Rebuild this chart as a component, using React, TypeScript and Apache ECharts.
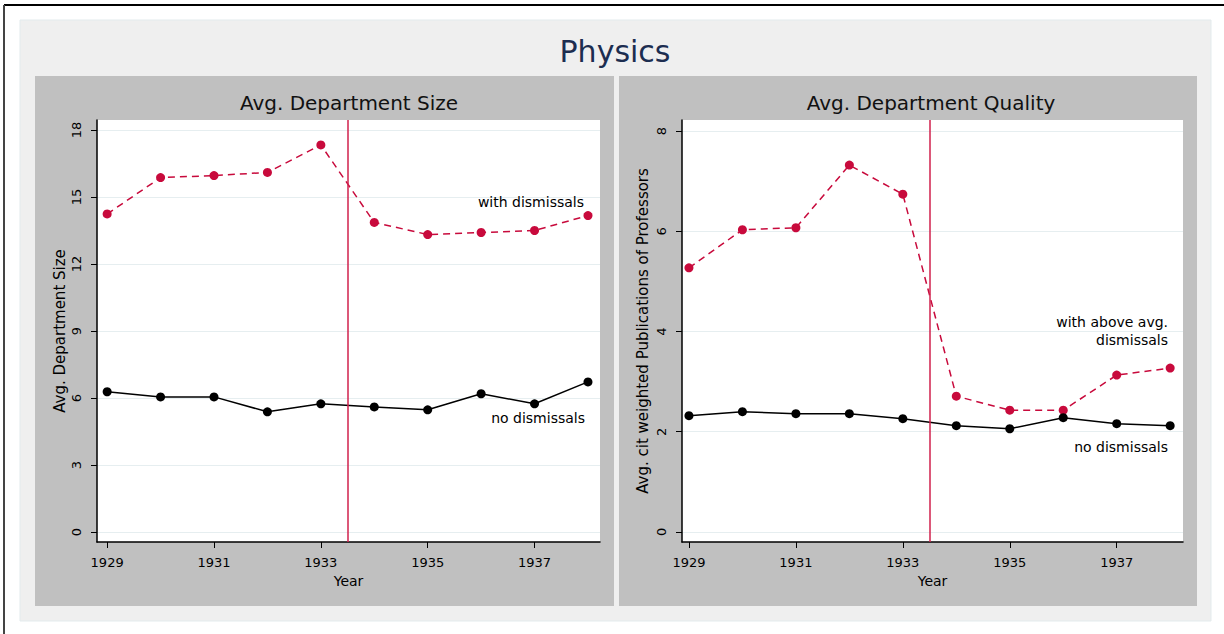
import React, { useEffect, useRef } from "react";
import * as echarts from "echarts";

const years = [1929, 1930, 1931, 1932, 1933, 1934, 1935, 1936, 1937, 1938];
const sizeWithDismissals = [14.24, 15.87, 15.96, 16.1, 17.33, 13.86, 13.32, 13.41, 13.5, 14.17];
const sizeNoDismissals = [6.28, 6.05, 6.05, 5.38, 5.74, 5.6, 5.47, 6.19, 5.74, 6.72];
const qualityWithDismissals = [5.27, 6.03, 6.07, 7.32, 6.74, 2.71, 2.43, 2.43, 3.13, 3.27];
const qualityNoDismissals = [2.32, 2.4, 2.36, 2.36, 2.26, 2.12, 2.06, 2.28, 2.16, 2.12];
const yearTicks = [1929, 1931, 1933, 1935, 1937];
const sizeTicks = [0, 3, 6, 9, 12, 15, 18];
const qualityTicks = [0, 2, 4, 6, 8];
const dismissalYear = 1933.5;

const FONT = "DejaVu Sans";
const RED = "#c80a3c";
const VLINE = "#d0204c";
const GRIDLINE = "#e6eef0";

const pairs = (ys: number[]) => years.map((y, i) => [y, ys[i]]);

function xAxis(gridIndex: number, min: number, max: number) {
  return {
    type: "value",
    gridIndex,
    min,
    max,
    axisLine: { show: true, onZero: false, lineStyle: { color: "#000", width: 1.5 } },
    axisTick: { show: true, customValues: yearTicks, length: 6, lineStyle: { color: "#000", width: 1 } },
    axisLabel: {
      customValues: yearTicks,
      formatter: (v: number) => String(v),
      fontFamily: FONT,
      fontSize: 13,
      color: "#000",
      margin: 14,
    },
    splitLine: { show: false },
    name: "Year",
    nameLocation: "middle",
    nameGap: 27,
    nameTextStyle: { fontFamily: FONT, fontSize: 14, color: "#000" },
  };
}

function yAxis(gridIndex: number, min: number, max: number, ticks: number[], name: string, nameGap: number) {
  return {
    type: "value",
    gridIndex,
    min,
    max,
    axisLine: { show: true, onZero: false, lineStyle: { color: "#000", width: 1.5 } },
    axisTick: { show: true, customValues: ticks, length: 6, lineStyle: { color: "#000", width: 1 } },
    axisLabel: {
      customValues: ticks,
      formatter: (v: number) => String(v),
      rotate: 90,
      fontFamily: FONT,
      fontSize: 13,
      color: "#000",
      margin: 14,
    },
    splitLine: { show: true, lineStyle: { color: GRIDLINE, width: 1 } },
    name,
    nameLocation: "middle",
    nameRotate: 90,
    nameGap,
    nameTextStyle: { fontFamily: FONT, fontSize: 15, color: "#000" },
  };
}

function redSeries(idx: number, data: number[]) {
  return {
    type: "line",
    xAxisIndex: idx,
    yAxisIndex: idx,
    data: pairs(data),
    symbol: "circle",
    symbolSize: 9,
    itemStyle: { color: RED },
    lineStyle: { color: RED, width: 1.5, type: [7, 5] },
    z: 3,
    markLine: {
      silent: true,
      symbol: "none",
      label: { show: false },
      lineStyle: { color: VLINE, width: 1.5, type: "solid" },
      data: [{ xAxis: dismissalYear }],
    },
  };
}

function blackSeries(idx: number, data: number[]) {
  return {
    type: "line",
    xAxisIndex: idx,
    yAxisIndex: idx,
    data: pairs(data),
    symbol: "circle",
    symbolSize: 9,
    itemStyle: { color: "#000" },
    lineStyle: { color: "#000", width: 1.5 },
    z: 4,
  };
}

const smallText = (x: number, y: number, text: string) => ({
  type: "text",
  x,
  y,
  style: {
    text,
    fontFamily: FONT,
    fontSize: 14,
    fill: "#000",
    align: "right",
    verticalAlign: "middle",
  },
  z: 10,
});

export default function App() {
  const ref = useRef<HTMLDivElement>(null);
  useEffect(() => {
    if (!ref.current) return;
    const chart = echarts.init(ref.current, null, { renderer: "svg" });
    chart.setOption({
      animation: false,
      backgroundColor: "#ffffff",
      grid: [
        { left: 97, top: 120, width: 503, height: 422, show: true, backgroundColor: "#ffffff", borderWidth: 0 },
        { left: 682, top: 120, width: 501, height: 422, show: true, backgroundColor: "#ffffff", borderWidth: 0 },
      ],
      xAxis: [xAxis(0, 1928.81, 1938.225), xAxis(1, 1928.87, 1938.24)],
      yAxis: [
        yAxis(0, -0.448, 18.448, sizeTicks, "Avg. Department Size", 30),
        yAxis(1, -0.2, 8.22, qualityTicks, "Avg. cit weighted Publications of Professors", 32),
      ],
      series: [
        redSeries(0, sizeWithDismissals),
        blackSeries(0, sizeNoDismissals),
        redSeries(1, qualityWithDismissals),
        blackSeries(1, qualityNoDismissals),
      ],
      graphic: [
        { type: "line", shape: { x1: 4, y1: 5, x2: 1224, y2: 5 }, style: { stroke: "#000", lineWidth: 2 }, z: -20 },
        { type: "line", shape: { x1: 4, y1: 5, x2: 4, y2: 634 }, style: { stroke: "#444", lineWidth: 2 }, z: -20 },
        { type: "rect", shape: { x: 20, y: 20, width: 1191, height: 601 }, style: { fill: "#efefef", stroke: "#e3ebed", lineWidth: 1 }, z: -20 },
        { type: "rect", shape: { x: 35, y: 76, width: 579, height: 530 }, style: { fill: "#c0c0c0" }, z: -19 },
        { type: "rect", shape: { x: 619, y: 76, width: 578, height: 530 }, style: { fill: "#c0c0c0" }, z: -19 },
        {
          type: "text",
          x: 615,
          y: 51,
          style: { text: "Physics", fontFamily: FONT, fontSize: 30, fill: "#1c2d50", align: "center", verticalAlign: "middle" },
          z: 10,
        },
        {
          type: "text",
          x: 349,
          y: 103,
          style: { text: "Avg. Department Size", fontFamily: FONT, fontSize: 20, fill: "#111", align: "center", verticalAlign: "middle" },
          z: 10,
        },
        {
          type: "text",
          x: 931,
          y: 103,
          style: { text: "Avg. Department Quality", fontFamily: FONT, fontSize: 20, fill: "#111", align: "center", verticalAlign: "middle" },
          z: 10,
        },
        smallText(584, 202, "with dismissals"),
        smallText(585, 418, "no dismissals"),
        smallText(1168, 322, "with above avg."),
        smallText(1168, 340, "dismissals"),
        smallText(1168, 447, "no dismissals"),
      ],
    });
    return () => chart.dispose();
  }, []);
  return <div ref={ref} style={{ position: "absolute", left: 0, top: 0, width: 1224, height: 634 }} />;
}
